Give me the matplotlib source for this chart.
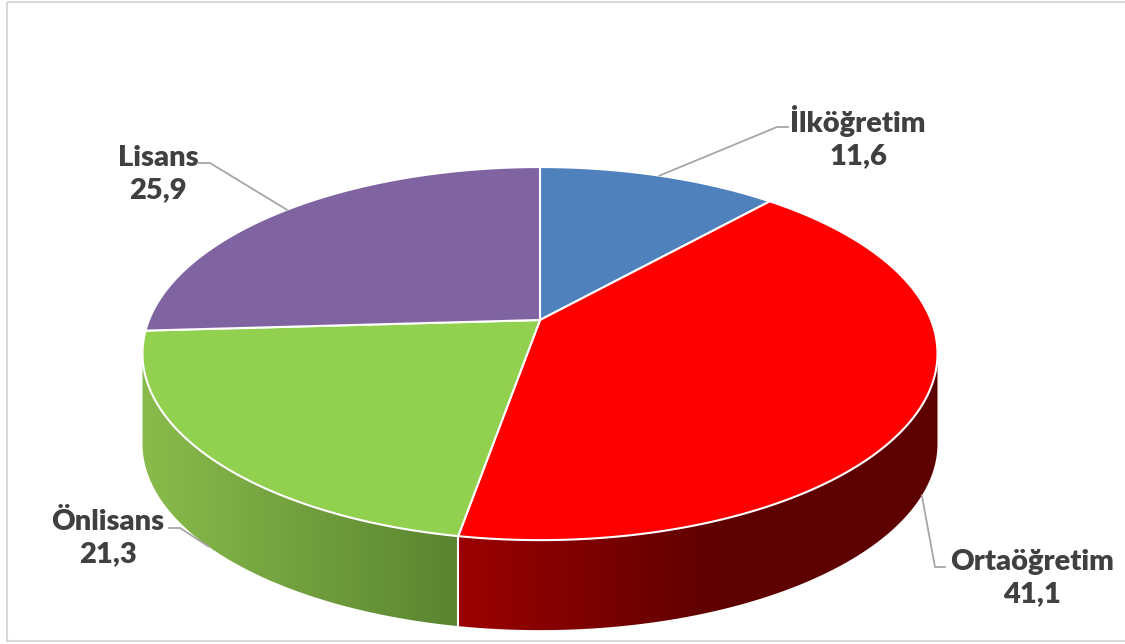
import math

import numpy as np
import matplotlib
matplotlib.use('Agg')
import matplotlib.pyplot as plt
from matplotlib.patches import Polygon, Rectangle
from matplotlib.colors import to_rgb

# data
categories = ['İlköğretim', 'Ortaöğretim', 'Önlisans', 'Lisans']
values = [11.6, 41.1, 21.3, 25.9]
value_labels = ['11,6', '41,1', '21,3', '25,9']

top_colors = ['#4F81BD', '#FF0000', '#92D050', '#8064A2']
# side shading: (colour at left x, colour at right x)
side_shades = [('#3C6494', '#2C4A70'), ('#9A0000', '#5E0000'),
               ('#88BA4B', '#5A8430'), ('#644E80', '#4E3D64')]
side_xr = [(540, 940), (465, 720), (150, 460), (150, 540)]

# label layout: text centre, elbow, end of leader
label_pos = [(858, 137), (1032, 578), (108, 538), (158, 174)]
leader_elbow = [(777, 127), (935, 567), (180, 528), (210, 163)]
leader_end = [(788, 127), (945, 567), (169, 528), (199, 163)]

# projection of the pie (pixel space)
CX, CY = 540, 320
A, B, K = 391, 180.5, 0.18
DEPTH = 90


def proj(theta, dy=0.0):
    t = np.radians(theta)
    u, v = np.sin(t), np.cos(t)
    w = 1 + K * v
    return CX + A * u / w, CY - B * v / w + dy


total = sum(values)
bounds = np.concatenate([[0], np.cumsum(values) / total * 360])

fig = plt.figure(figsize=(11.25, 6.44), dpi=100)
ax = fig.add_axes([0, 0, 1, 1])
ax.set_xlim(0, 1125)
ax.set_ylim(644, 0)
ax.axis('off')

ax.add_patch(Rectangle((7, 2), 1130, 639, fill=False, edgecolor='#D9D9D9', lw=1.5))

# visible side: between the two silhouette tangents
t_vis0 = math.degrees(math.acos(-K))
t_vis1 = 360 - t_vis0

for i in range(len(values)):
    t0, t1 = max(bounds[i], t_vis0), min(bounds[i + 1], t_vis1)
    if t1 <= t0:
        continue
    ts = np.linspace(t0, t1, 300)
    xs, ys = proj(ts)
    pts = list(zip(xs, ys)) + list(zip(xs[::-1], ys[::-1] + DEPTH))
    poly = Polygon(pts, closed=True, facecolor='none', edgecolor='none')
    ax.add_patch(poly)
    # horizontal gradient clipped to the side face
    x_lo, x_hi = xs.min() - 2, xs.max() + 2
    y_lo, y_hi = ys.min() - 2, ys.max() + DEPTH + 2
    gx = np.linspace(x_lo, x_hi, 256)
    f = np.clip((gx - side_xr[i][0]) / (side_xr[i][1] - side_xr[i][0]), 0, 1)
    c0, c1 = np.array(to_rgb(side_shades[i][0])), np.array(to_rgb(side_shades[i][1]))
    grad = c0[None, :] + (c1 - c0)[None, :] * f[:, None]
    img = ax.imshow(grad[None, :, :], extent=(x_lo, x_hi, y_hi, y_lo),
                    aspect='auto', interpolation='bilinear', zorder=1)
    img.set_clip_path(poly)

ax.set_xlim(0, 1125)
ax.set_ylim(644, 0)

# white seams on the side at slice boundaries
for b in bounds[1:-1]:
    if t_vis0 < b < t_vis1:
        x, y = proj(b)
        ax.plot([x, x], [y, y + DEPTH], color='white', lw=1.5,
                solid_capstyle='butt', zorder=2)

# top surface
for i in range(len(values)):
    ts = np.linspace(bounds[i], bounds[i + 1], 200)
    xs, ys = proj(ts)
    pts = [(CX, CY)] + list(zip(xs, ys))
    ax.add_patch(Polygon(pts, closed=True, facecolor=top_colors[i],
                         edgecolor='white', lw=1.5, joinstyle='round', zorder=3))

# labels with leader lines
for i in range(len(values)):
    mid = (bounds[i] + bounds[i + 1]) / 2
    dy = DEPTH if t_vis0 < mid < t_vis1 else 0
    ax_x, ax_y = proj(mid, dy)
    ex, ey = leader_elbow[i]
    fx, fy = leader_end[i]
    ax.plot([ax_x, ex, fx], [ax_y, ey, fy], color='#A6A6A6', lw=1.3, zorder=4)
    ax.text(label_pos[i][0], label_pos[i][1], categories[i] + '\n' + value_labels[i],
            ha='center', va='center', fontsize=21, fontweight='heavy',
            family=['Lato', 'DejaVu Sans'], color='#404040', linespacing=1.25,
            zorder=5)

fig.savefig('out.png', dpi=100)
